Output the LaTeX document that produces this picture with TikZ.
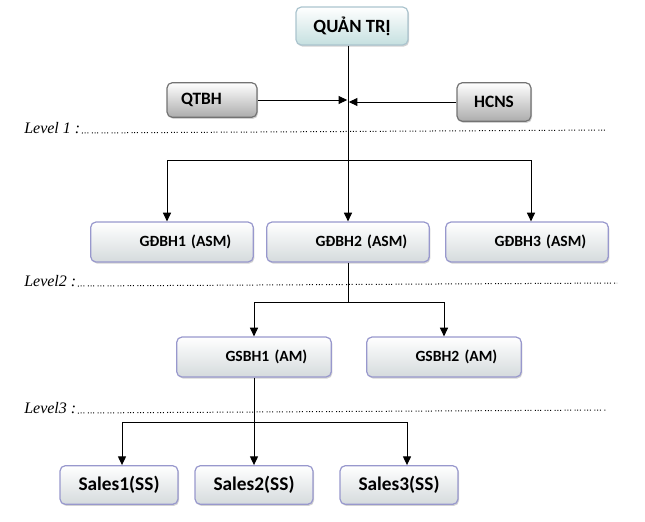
\documentclass[tikz,border=0pt]{standalone}
\usepackage{fontspec}
\setmainfont{Carlito}
\newfontfamily\levelfont{Liberation Serif}
\usetikzlibrary{arrows.meta,shadows}

\begin{document}
\begin{tikzpicture}
        [%%%%%%%%%%%%%%%%%%%%%%%%%%%%%%
            x=0.75pt, y=-0.75pt,
            box/.style={rounded corners=4pt, line width=0.9pt, font=\bfseries\fontsize{11.7}{13}\selectfont,
                drop shadow={shadow xshift=0.8pt, shadow yshift=-1.2pt, opacity=0.35}},
            bluebox/.style={box, draw=blue!35!gray!60, top color=white, bottom color=blue!25!cyan!10!gray!30},
            topbox/.style={box, draw=cyan!30!gray!60, top color=white, bottom color=cyan!30!gray!35,
                minimum width=84pt, minimum height=28.5pt, font=\bfseries\fontsize{14}{16}\selectfont},
            greybox/.style={box, draw=gray!90!black, top color=white, bottom color=gray!65,
                font=\bfseries\fontsize{13}{15}\selectfont},
            gdbox/.style={bluebox, minimum height=30pt, inner xsep=16.5pt, text width=89pt, align=right},
            gsbox/.style={bluebox, minimum height=30pt, inner xsep=18pt, text width=80pt, align=right},
            salesbox/.style={bluebox, minimum width=88.5pt, minimum height=29pt,
                font=\bfseries\fontsize{14.5}{16}\selectfont},
            level/.style={font=\levelfont\itshape\fontsize{12}{14}\selectfont, inner sep=0pt, anchor=base west},
            sep/.style={line width=0.75pt, dash pattern=on 0.75pt off 1.3pt on 0.75pt off 1.3pt on 0.75pt off 2.6pt},
            conn/.style={line width=0.75pt},
            arr/.style={conn, -{Triangle[width=6pt,length=6.5pt]}},
        ]%%%%%%%%%%%%%%%%%%%%%%%%%%%%%%

        \useasboundingbox (0,0) rectangle (645,521);

        % top
        \node[topbox] (qt) at (352,26) {QUẢN TRỊ};
        \node[greybox, minimum height=26pt, inner xsep=10.5pt, text width=46.5pt, align=left] (qtbh) at (212,100) {QTBH};
        \node[greybox, minimum width=55.5pt, minimum height=29pt] (hcns) at (494,102) {HCNS};

        % level 1
        \node[gdbox] (gd1) at (172,242) {GĐBH1 (ASM)};
        \node[gdbox] (gd2) at (348,242) {GĐBH2 (ASM)};
        \node[gdbox] (gd3) at (527,242) {GĐBH3 (ASM)};

        % level 2
        \node[gsbox] (gs1) at (254,357) {GSBH1 (AM)};
        \node[gsbox] (gs2) at (444,357) {GSBH2 (AM)};

        % level 3
        \node[salesbox] (s1) at (119,485) {Sales1(SS)};
        \node[salesbox] (s2) at (254,485) {Sales2(SS)};
        \node[salesbox] (s3) at (399,485) {Sales3(SS)};

        % levels
        \node[level] (lv1) at (24,133) {Level 1 :};
        \node[level] (lv2) at (24,286) {Level2 :};
        \node[level] (lv3) at (24,413) {Level3 :};
        \coordinate (e1) at (607,130);
        \coordinate (e2) at (617,283);
        \coordinate (e3) at (607,410);
        \draw[sep] ([xshift=1pt]lv1.base east) -- (e1);
        \draw[sep] ([xshift=1pt]lv2.base east) -- (e2);
        \draw[sep] ([xshift=1pt]lv3.base east) -- (e3);

        % connectors
        \coordinate (b1) at (167,160);
        \coordinate (b3) at (531,160);
        \coordinate (c2) at (348,302);
        \coordinate (d1) at (122,422);
        \coordinate (d3) at (407,422);

        \draw[arr] (gd2.north |- qt.south) -- (gd2.north);
        \draw[arr] (qtbh.east) -- ([xshift=-0.6pt]qtbh.east -| gd2.north);
        \draw[arr] (hcns.west) -- ([xshift=0.6pt]hcns.west -| gd2.north);
        \draw[conn] (b1) -- (b3);
        \draw[arr] (b1) -- (b1 |- gd1.north);
        \draw[arr] (b3) -- (b3 |- gd3.north);

        \draw[conn] (gd2.south) -- (c2);
        \draw[conn] (c2 -| gs1.north) -- (c2 -| gs2.north);
        \draw[arr] (c2 -| gs1.north) -- (gs1.north);
        \draw[arr] (c2 -| gs2.north) -- (gs2.north);

        \draw[arr] (gs1.south) -- (gs1.south |- s2.north);
        \draw[conn] (d1) -- (d3);
        \draw[arr] (d1) -- (d1 |- s1.north);
        \draw[arr] (d3) -- (d3 |- s3.north);
    \end{tikzpicture}
\end{document}
